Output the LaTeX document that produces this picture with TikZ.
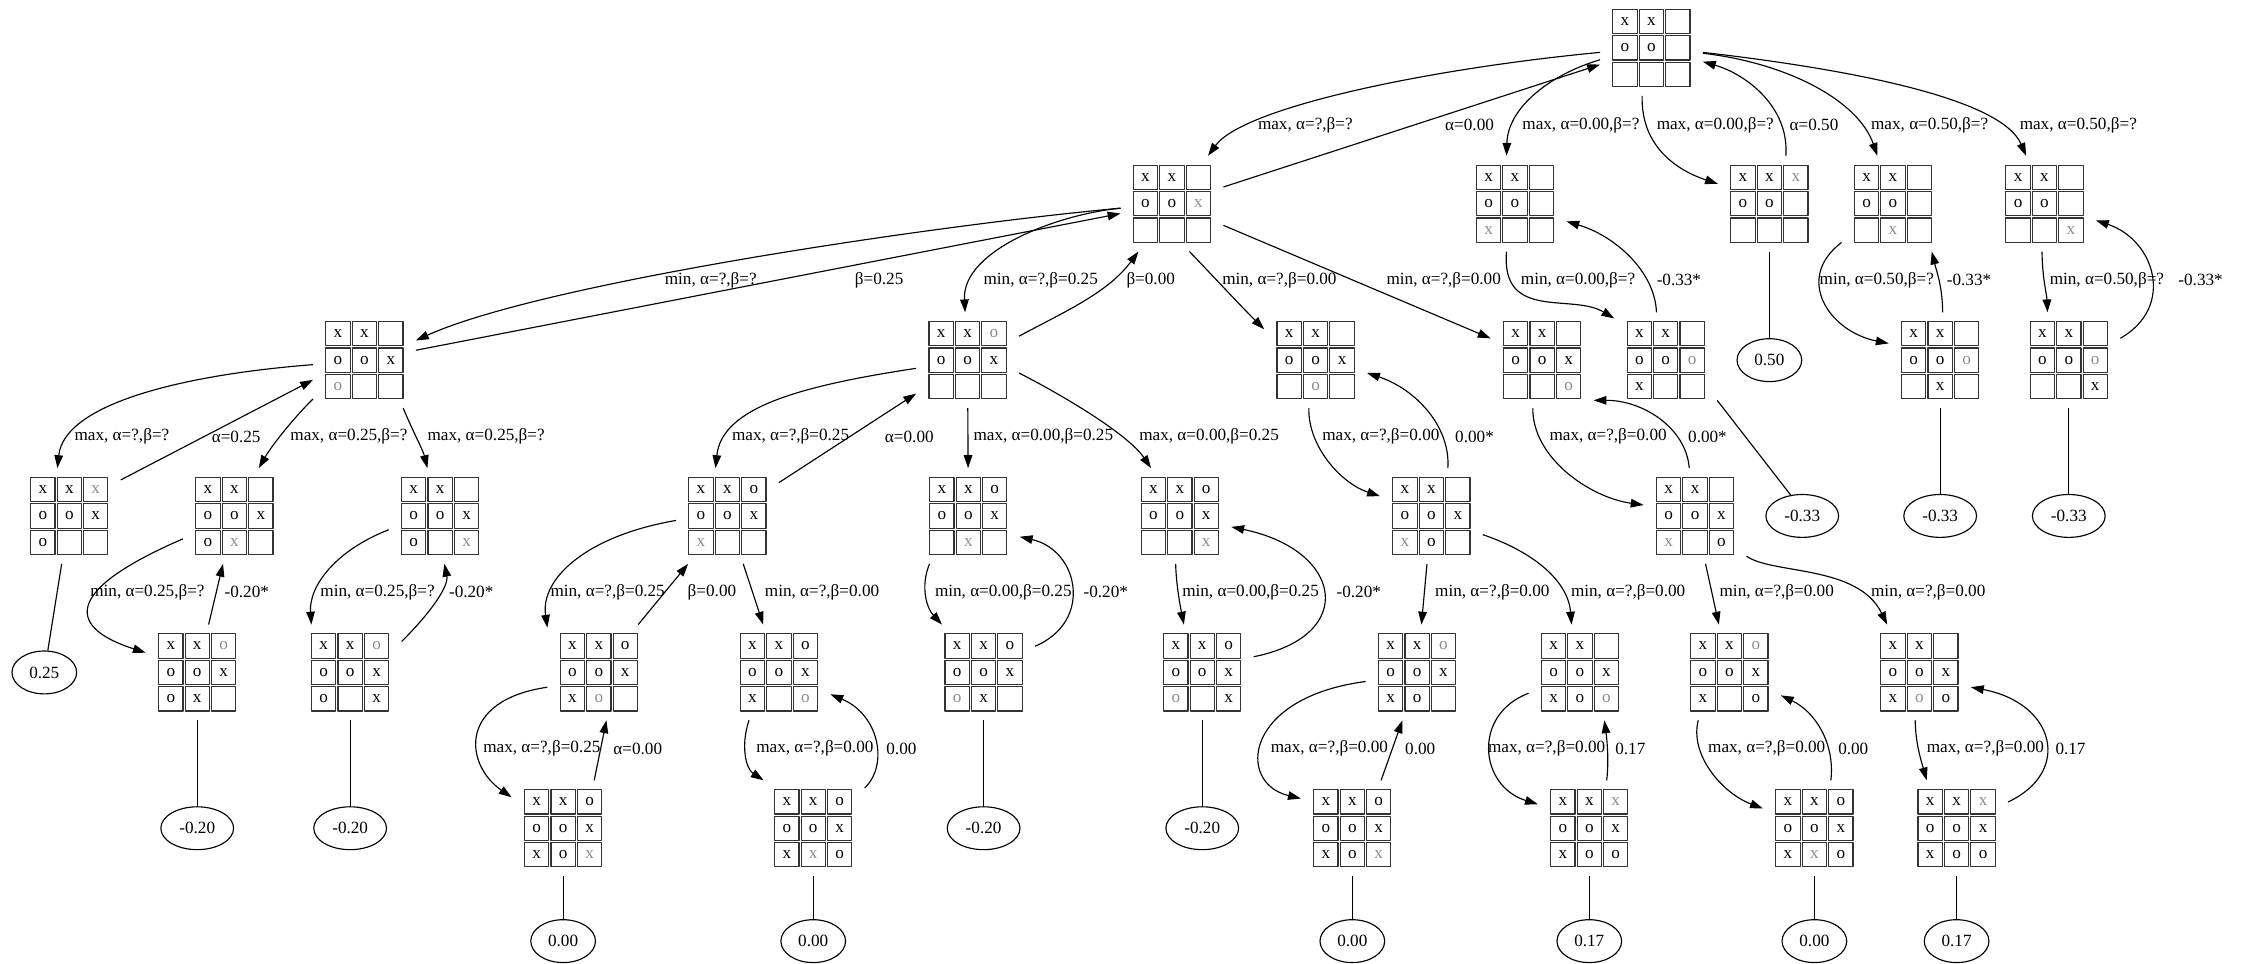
\documentclass[tikz,border=0pt]{standalone}
\usepackage{fontspec}
\setmainfont{Liberation Serif}
\usetikzlibrary{arrows.meta,shapes.geometric}

\definecolor{lastmove}{gray}{0.55}
\newcommand\sqx{x}
\newcommand\sqo{o}
\newcommand\sqX{\textcolor{lastmove}{x}}
\newcommand\sqO{\textcolor{lastmove}{o}}
\newcommand\sqe{}

\begin{document}
\begin{tikzpicture}[
  x=1pt, y=-1pt,
  line join=round,
  board/.style={minimum width=72pt, minimum height=67pt, inner sep=0pt, outer sep=0pt},
  cell/.style={draw=black!80, line width=0.8pt, minimum size=17pt, inner sep=0pt,
               font=\fontsize{12}{12}\selectfont},
  leaf/.style={draw, ellipse, line width=0.8pt, minimum height=30pt,
               inner xsep=5.5pt, inner ysep=0pt, font=\fontsize{12}{14}\selectfont},
  lbl/.style={anchor=west, inner sep=0pt, font=\fontsize{12}{14}\selectfont},
  arc/.style={line width=0.8pt, -{Triangle[length=9pt,width=6pt]}},
  tie/.style={line width=0.8pt},
]
\useasboundingbox (0,0) rectangle (1568,674);

% ── the boards (x, o; X and O are the move just made) ─────────────────────
\foreach \n/\x/\y/\brd in {%
  R/1155.5/33.5/{x,x,e,o,o,e,e,e,e},
  A/820/142.5/{x,x,e,o,o,X,e,e,e}, B/1060/142.5/{x,x,e,o,o,e,X,e,e},
  C/1238/142.5/{x,x,X,o,o,e,e,e,e}, D/1324.5/142.5/{x,x,e,o,o,e,e,X,e},
  E/1430.5/142.5/{x,x,e,o,o,e,e,e,X},
  A1/255/252/{x,x,e,o,o,x,O,e,e}, A2/677/252/{x,x,O,o,o,x,e,e,e},
  A3/920.5/252/{x,x,e,o,o,x,e,O,e}, A4/1079/252/{x,x,e,o,o,x,e,e,O},
  B1/1165.5/252/{x,x,e,o,o,O,x,e,e}, D1/1357.5/252/{x,x,e,o,o,O,e,x,e},
  E1/1447.5/252/{x,x,e,o,o,O,e,e,x},
  A1a/48.5/361/{x,x,X,o,o,x,o,e,e}, A1b/164/361/{x,x,e,o,o,x,o,X,e},
  A1c/308/361/{x,x,e,o,o,x,o,e,X}, A2a/509/361/{x,x,o,o,o,x,X,e,e},
  A2b/677.5/361/{x,x,o,o,o,x,e,X,e}, A2c/825.5/361/{x,x,o,o,o,x,e,e,X},
  A3a/1001.5/361/{x,x,e,o,o,x,X,o,e}, A4a/1186/361/{x,x,e,o,o,x,X,e,o},
  A1b1/138/470.5/{x,x,O,o,o,x,o,x,e}, A1c1/245/470.5/{x,x,O,o,o,x,o,e,x},
  A2a1/419/470.5/{x,x,o,o,o,x,x,O,e}, A2a2/545/470.5/{x,x,o,o,o,x,x,e,O},
  A2b1/688.2/470.5/{x,x,o,o,o,x,O,x,e}, A2c1/841.2/470.5/{x,x,o,o,o,x,O,e,x},
  A3a1/991.5/470.5/{x,x,O,o,o,x,x,o,e}, A3a2/1105.5/470.5/{x,x,e,o,o,x,x,o,O},
  A4a1/1210/470.5/{x,x,O,o,o,x,x,e,o}, A4a2/1343/470.5/{x,x,e,o,o,x,x,O,o},
  A2a1a/394/579.5/{x,x,o,o,o,x,x,o,X}, A2a2a/569/579.5/{x,x,o,o,o,x,x,X,o},
  A3a1a/946.2/579.5/{x,x,o,o,o,x,x,o,X}, A3a2a/1112/579.5/{x,x,X,o,o,x,x,o,o},
  A4a1a/1269.5/579.5/{x,x,o,o,o,x,x,X,o}, A4a2a/1369/579.5/{x,x,X,o,o,x,x,o,o}%
} {
  \node[board] (\n) at (\x,\y) {};
  \foreach \v [count=\k from 0] in \brd {
    \pgfmathtruncatemacro\col{mod(\k,3)}
    \pgfmathtruncatemacro\row{int(\k/3)}
    \node[cell] (\n-\k) at (\x+\col*18.5-18.5,\y+\row*18.5-18.5) {\csname sq\v\endcsname};
  }
}

% ── the scores at the leaves ──────────────────────────────────────────────
\foreach \n/\x/\y/\v in {%
  LC/1238/252/0.50, LB1/1261/361/-0.33, LD1/1357.5/361/-0.33, LE1/1447.5/361/-0.33,
  LA1a/31/470.5/0.25, LA1b1/138/579.5/-0.20, LA1c1/245/579.5/-0.20,
  LA2b1/688.2/579.5/-0.20, LA2c1/841.2/579.5/-0.20,
  LA2a1a/394/658.5/0.00, LA2a2a/569/658.5/0.00, LA3a1a/946.2/658.5/0.00,
  LA3a2a/1112/658.5/0.17, LA4a1a/1269.5/658.5/0.00, LA4a2a/1369/658.5/0.17%
} { \node[leaf] (\n) at (\x,\y) {\v}; }

% ── moves down and values back up ─────────────────────────────────────────
\foreach \a/\b/\p/\q in {%
  R.185/A.53/{1000,48}/{870,75}, R.193/B.100/{1085,52}/{1055,75},
  R.259/C.159/{1148,100}/{1170,118}, C.71/R.345/{1252,75}/{1222,52},
  R.354/D.108/{1250,44}/{1300,70}, R.355/E.111/{1290,48}/{1400,68},
  A.185/A1.21/{650,158}/{380,198}, A.185/A2.93/{740,150}/{673,175},
  A2.25/A.235/{745,218}/{775,205}, A.290/A3.149/{842,186}/{868,214},
  B.260/B1.141/{1050,225}/{1100,205}, B1.101/B.341/{1158,190}/{1130,165},
  D.217/D1.162/{1255,195}/{1280,232}, D1.87/D.309/{1359,200}/{1355,190},
  E.267/E1.114/{1429,195}/{1432,205}, E1.23/E.342/{1522,215}/{1508,168},
  A1.185/A1a.104/{130,262}/{45,282}, A1.217/A1b.63/{205,293}/{190,312},
  A1.309/A1c.105/{288,300}/{296,315}, A1b.204/A1b1.159/{40,415}/{50,440},
  A1c.195/A1c1.129/{235,385}/{216,410}, A1c1.31/A1c.275/{302,428}/{314,410},
  A2.189/A2a.104/{560,270}/{505,285}, A2.346/A2c.121/{750,280}/{790,305},
  A2a.185/A2a1.139/{410,375}/{378,405}, A2a1.196/A2a1a.149/{320,490}/{325,535},
  A2a2.238/A2a2a.136/{518,522}/{522,538}, A2a2a.38/A2a2.337/{622,535}/{615,500},
  A2b.231/A2b1.131/{644,410}/{648,425}, A2b1.27/A2b.338/{765,435}/{755,385},
  A2c.265/A2c1.111/{823,410}/{826,425}, A2c1.17/A2c.348/{950,445}/{940,385},
  A3.262/A3a.159/{915,312}/{938,338}, A3a.71/A3.346/{1015,298}/{990,272},
  A4.259/A4a.168/{1072,320}/{1112,348}, A4a.97/A4.322/{1180,300}/{1150,280},
  A3a.340/A3a2.100/{1070,385}/{1097,405}, A3a1.190/A3a1a.150/{870,488}/{865,548},
  A3a2.202/A3a2a.155/{1030,500}/{1035,550}, A3a2a.70/A3a2.297/{1126,530}/{1124,515},
  A4a.322/A4a2.124/{1240,402}/{1300,395}, A4a1.237/A4a1a.159/{1182,528}/{1205,555},
  A4a1a.71/A4a1.336/{1284,520}/{1270,498}, A4a2.265/A4a2a.122/{1340,520}/{1345,535},
  A4a2a.27/A4a2.344/{1450,540}/{1438,492}%
} { \draw[arc] (\a) .. controls (\p) and (\q) .. (\b); }

\foreach \a/\b in {A/R, A1/A, A/A4, A1a.35/A1.201, A1b1/A1b, A2a/A2, A2/A2b, A2a1/A2a,
  A2a/A2a2, A2a1a.57/A2a1.279, A3a/A3a1, A3a1a.59/A3a1.253, A4a/A4a1}
  { \draw[arc] (\a) -- (\b); }

% ── boards to their scores ────────────────────────────────────────────────
\foreach \a/\b in {C/LC, B1.322/LB1.119, D1/LD1, E1/LE1, A1a/LA1a, A1b1/LA1b1,
  A1c1/LA1c1, A2b1/LA2b1, A2c1/LA2c1, A2a1a/LA2a1a, A2a2a/LA2a2a,
  A3a1a/LA3a1a, A3a2a/LA3a2a, A4a1a/LA4a1a, A4a2a/LA4a2a}
  { \draw[tie] (\a) -- (\b); }

% ── the edge labels ───────────────────────────────────────────────────────
\foreach \x/\y/\t [count=\i] in {%
  880/87.5/{max, α=?,β=?}, 1011/87.5/{α=0.00}, 1065/87.5/{max, α=0.00,β=?},
  1159/87.5/{max, α=0.00,β=?}, 1252/87.5/{α=0.50}, 1309/87.5/{max, α=0.50,β=?},
  1413/87.5/{max, α=0.50,β=?},
  465/196/{min, α=?,β=?}, 598/196/{β=0.25}, 688/196/{min, α=?,β=0.25},
  788/196/{β=0.00}, 855/196/{min, α=?,β=0.00}, 970/196/{min, α=?,β=0.00},
  1064/196/{min, α=0.00,β=?}, 1159/196/{-0.33*}, 1273/196/{min, α=0.50,β=?},
  1362/196/{-0.33*}, 1434/196/{min, α=0.50,β=?}, 1524/196/{-0.33*},
  52/305.5/{max, α=?,β=?}, 148/305.5/{α=0.25}, 203/305.5/{max, α=0.25,β=?},
  299/305.5/{max, α=0.25,β=?}, 512/305.5/{max, α=?,β=0.25}, 619/305.5/{α=0.00},
  681/305.5/{max, α=0.00,β=0.25}, 797/305.5/{max, α=0.00,β=0.25},
  925/305.5/{max, α=?,β=0.00}, 1018/305.5/{0.00*}, 1084/305.5/{max, α=?,β=0.00},
  1181/305.5/{0.00*},
  63/414.5/{min, α=0.25,β=?}, 157/414.5/{-0.20*}, 224/414.5/{min, α=0.25,β=?},
  314/414.5/{-0.20*}, 385/414.5/{min, α=?,β=0.25}, 481/414.5/{β=0.00},
  535/414.5/{min, α=?,β=0.00}, 654/414.5/{min, α=0.00,β=0.25}, 758/414.5/{-0.20*},
  827/414.5/{min, α=0.00,β=0.25}, 935/414.5/{-0.20*}, 1004/414.5/{min, α=?,β=0.00},
  1099/414.5/{min, α=?,β=0.00}, 1203/414.5/{min, α=?,β=0.00},
  1309/414.5/{min, α=?,β=0.00},
  338/523.7/{max, α=?,β=0.25}, 429/523.7/{α=0.00}, 529/523.7/{max, α=?,β=0.00},
  620/523.7/{0.00}, 889/523.7/{max, α=?,β=0.00}, 983/523.7/{0.00},
  1041/523.7/{max, α=?,β=0.00}, 1130/523.7/{0.17}, 1195/523.7/{max, α=?,β=0.00},
  1286/523.7/{0.00}, 1348/523.7/{max, α=?,β=0.00}, 1438/523.7/{0.17}%
} { \node[lbl] (lab\i) at (\x,\y) {\t}; }

\end{tikzpicture}
\end{document}
